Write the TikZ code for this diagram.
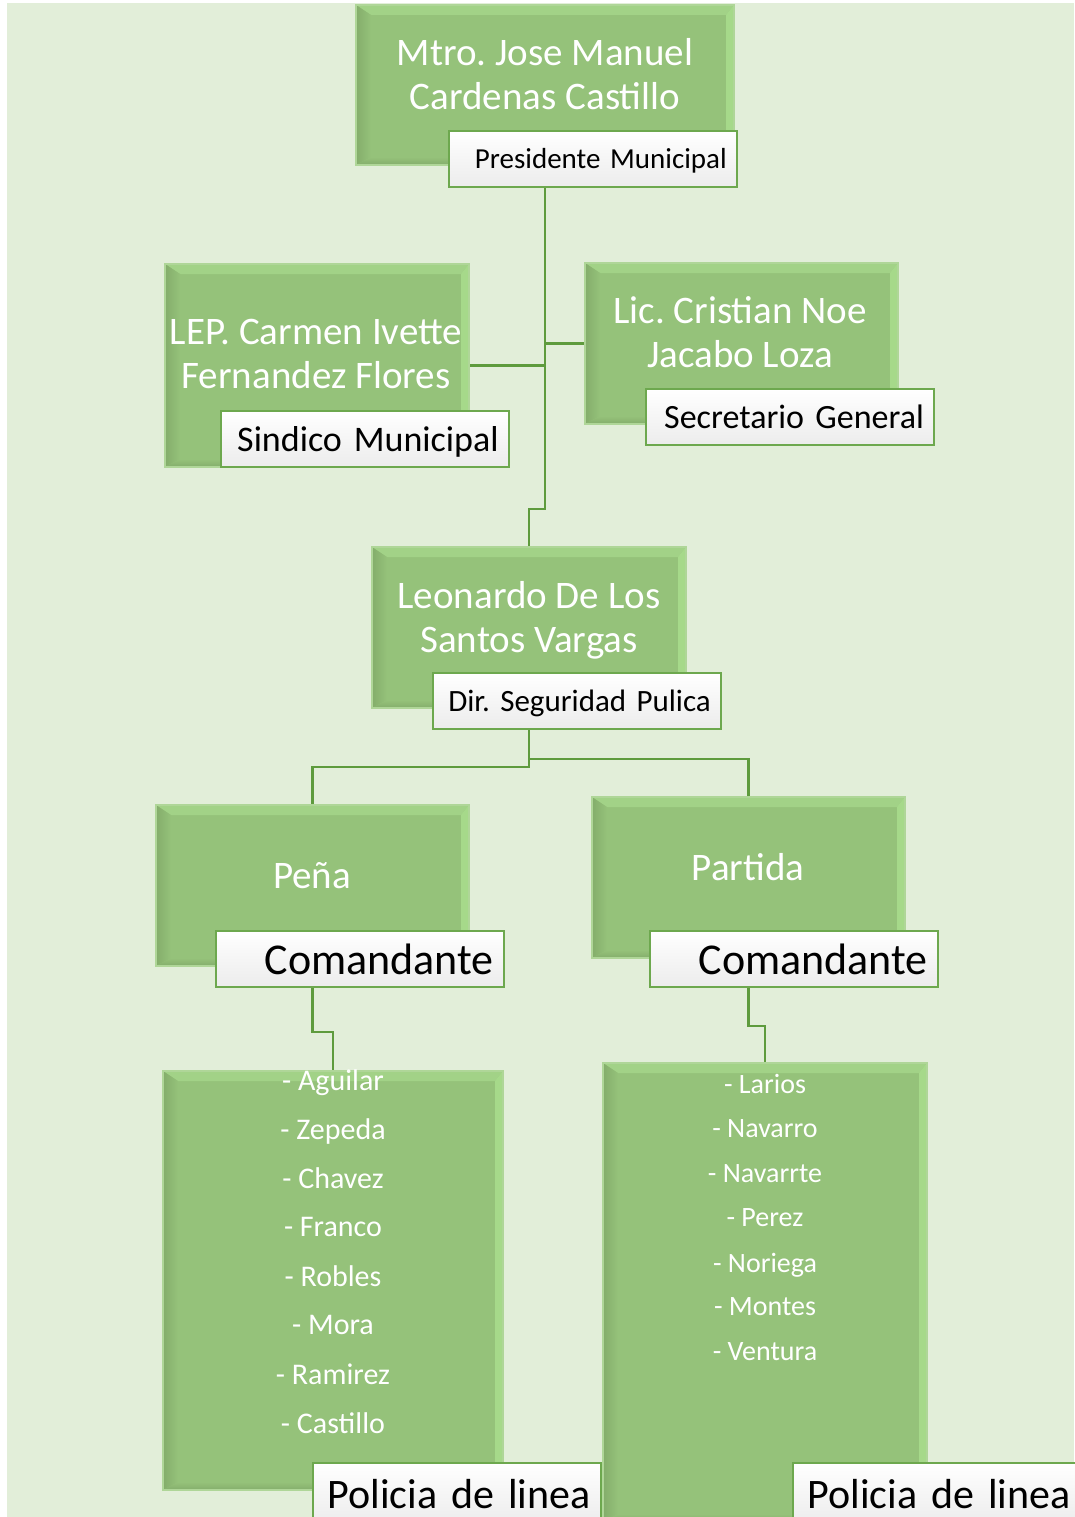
\documentclass[tikz,border=0pt]{standalone}
\usepackage{fontspec}
\setmainfont{Carlito}
\frenchspacing
\definecolor{orgBack}{HTML}{E2EED9}
\definecolor{orgFill}{HTML}{95C27A}
\definecolor{orgTop}{HTML}{A2D287}
\definecolor{orgLight}{HTML}{A6D98A}
\definecolor{orgDark}{HTML}{84AD6B}
\definecolor{orgRim}{HTML}{AFD698}
\definecolor{orgLine}{HTML}{5E9B3D}
\definecolor{orgFrame}{HTML}{6DA84E}
\definecolor{orgShade}{HTML}{ECECEC}
\pgfdeclarelayer{background}
\pgfsetlayers{background,main}
\tikzset{
  org box/.style={draw=orgRim, line width=1.5pt, fill=orgFill, inner sep=0pt, path picture={
    \coordinate (bnw) at (path picture bounding box.north west);
    \coordinate (bse) at (path picture bounding box.south east);
    \fill[orgTop] (bnw) -- (bnw -| bse) -- ([xshift=-8pt,yshift=-10pt]bnw -| bse) -- ([xshift=15pt,yshift=-10pt]bnw) -- cycle;
    \shade[left color=orgDark, right color=orgFill] (bnw) -- ([xshift=15pt,yshift=-10pt]bnw) -- ([xshift=15pt,yshift=8pt]bnw |- bse) -- (bnw |- bse) -- cycle;
    \fill[orgLight] (bnw -| bse) -- (bse) -- ([xshift=-8pt,yshift=8pt]bse) -- ([xshift=-8pt,yshift=-10pt]bnw -| bse) -- cycle;
    \shade[top color=orgFill, bottom color=orgDark] (bnw |- bse) -- (bse) -- ([xshift=-8pt,yshift=8pt]bse) -- ([xshift=15pt,yshift=8pt]bnw |- bse) -- cycle;
  }},
  org role/.style={draw=orgFrame, line width=1.6pt, top color=white, bottom color=orgShade, anchor=north west, minimum height=56pt, text width=268pt, inner xsep=10pt, inner ysep=0pt, align=right, text depth=0pt, text=black},
  org name/.style={text=white, align=center, text depth=0pt, inner sep=0pt, font=\fontsize{39}{44}\selectfont},
  org item/.style={text=white, text depth=0pt, inner sep=0pt, font=\fontsize{30}{34}\selectfont},
  org link/.style={draw=orgLine, line width=2.5pt},
}
\begin{document}
\begin{tikzpicture}[x=1pt,y=-1pt]
  \useasboundingbox (0,0) rectangle (1074,1517);
  \node[org box,minimum width=378pt,minimum height=160pt] (mtro) at (545,85) {};
  \node[org box,minimum width=304pt,minimum height=203pt] (lep) at (317,365.5) {};
  \node[org box,minimum width=313pt,minimum height=161pt] (lic) at (741.5,343.5) {};
  \node[org box,minimum width=314pt,minimum height=161pt] (leo) at (529,627.5) {};
  \node[org box,minimum width=313pt,minimum height=161pt] (pena) at (312.5,885.5) {};
  \node[org box,minimum width=313pt,minimum height=161pt] (partida) at (748.5,877.5) {};
  \node[org box,minimum width=340pt,minimum height=419pt] (listL) at (333,1280.5) {};
  \node[org box,minimum width=324pt,minimum height=459pt] (listR) at (765,1292.5) {};

  \node[org name] (mtroTxt) at (545,74) {Mtro. Jose Manuel\\Cardenas Castillo};
  \node[org name] (lepTxt) at (316,353.5) {LEP. Carmen Ivette\\Fernandez Flores};
  \node[org name] (licTxt) at (740,332.5) {Lic. Cristian Noe\\Jacabo Loza};
  \node[org name] (leoTxt) at (529,616.5) {Leonardo De Los\\Santos Vargas};
  \node[org name] (penaTxt) at (312,875) {Peña};
  \node[org name] (partidaTxt) at (748,867) {Partida};
  \foreach \n [count=\i] in {Aguilar,Zepeda,Chavez,Franco,Robles,Mora,Ramirez,Castillo}{\node[org item] (pl\i) at (333,1031+49*\i) {- \n};}
  \foreach \n [count=\i] in {Larios,Navarro,Navarrte,Perez,Noriega,Montes,Ventura}{\node[org item,font=\fontsize{28}{32}\selectfont] (pr\i) at (765,1039.4+44.6*\i) {- \n};}

  \node[org role,font=\fontsize{29}{34}\selectfont] (pres) at (448,130) {Presidente Municipal};
  \node[org role,font=\fontsize{36}{40}\selectfont] (sind) at (220,410) {Sindico Municipal};
  \node[org role,font=\fontsize{34}{38}\selectfont] (secr) at (645,388) {Secretario General};
  \node[org role,font=\fontsize{31}{36}\selectfont] (dir) at (432,672) {Dir. Seguridad Pulica};
  \node[org role,font=\fontsize{44}{48}\selectfont] (comL) at (215,930) {Comandante};
  \node[org role,font=\fontsize{44}{48}\selectfont] (comR) at (649,930) {Comandante};
  \node[org role,font=\fontsize{42}{46}\selectfont,minimum height=62pt] (polL) at (312,1462) {Policia de linea};
  \node[org role,font=\fontsize{42}{46}\selectfont,minimum height=62pt] (polR) at (792,1462) {Policia de linea};

  \begin{pgfonlayer}{background}
    \fill[orgBack] (7,3) rectangle (1074,1517);
    \draw[org link] (mtro.south) -- ++(0,343) -| (leo.north);
    \draw[org link] (lep.east) -- (lep.east -| mtro.south);
    \draw[org link] (lic.west) -- (lic.west -| mtro.south);
    \draw[org link] (leo.south) -- ++(0,58) -| (pena.north);
    \draw[org link] (leo.south) -- ++(0,50) -| (partida.north);
    \draw[org link] (pena.south) -- ++(0,65) -| (listL.north);
    \draw[org link] (partida.south) -- ++(0,67) -| (listR.north);
  \end{pgfonlayer}
\end{tikzpicture}
\end{document}
